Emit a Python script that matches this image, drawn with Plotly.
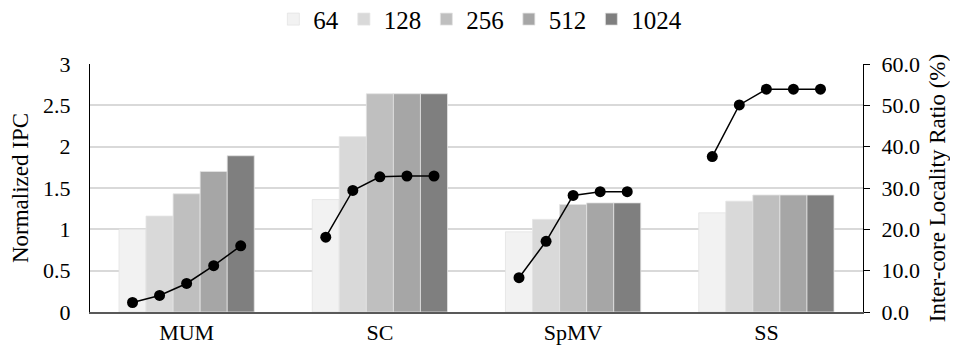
import plotly.graph_objects as go

categories = ["MUM", "SC", "SpMV", "SS"]
sizes = ["64", "128", "256", "512", "1024"]
ipc = {
    "64":   [1.00, 1.36, 0.97, 1.20],
    "128":  [1.16, 2.12, 1.12, 1.34],
    "256":  [1.43, 2.64, 1.30, 1.415],
    "512":  [1.70, 2.64, 1.32, 1.415],
    "1024": [1.89, 2.64, 1.32, 1.415],
}
locality = {
    "MUM":  [2.3, 4.0, 6.9, 11.2, 16.0],
    "SC":   [18.1, 29.4, 32.7, 32.9, 32.9],
    "SpMV": [8.3, 17.1, 28.2, 29.1, 29.1],
    "SS":   [37.6, 50.1, 53.9, 53.9, 53.9],
}
colors = ["#f2f2f2", "#d9d9d9", "#bfbfbf", "#a6a6a6", "#7f7f7f"]

FONT = "Liberation Serif"
bargap = 0.3
nb = len(sizes)
bw = (1 - bargap) / nb
xs = list(range(len(categories)))

fig = go.Figure()
for s, c in zip(sizes, colors):
    fig.add_trace(go.Bar(x=xs, y=ipc[s], name=s, marker=dict(color=c, line=dict(color="#e3e3e3", width=0.8))))

for i, cat in enumerate(categories):
    px = [i + (j - (nb - 1) / 2) * bw for j in range(nb)]
    fig.add_trace(go.Scatter(x=px, y=locality[cat], yaxis="y2", mode="lines+markers",
                             line=dict(color="black", width=1.5),
                             marker=dict(color="black", size=11),
                             showlegend=False))

# page body has an 8px default margin, so the figure is offset by (8, 8)
fig.update_layout(
    width=950, height=344,
    margin=dict(l=82, r=95, t=56, b=40, autoexpand=False),
    barmode="group", bargap=bargap, bargroupgap=0,
    plot_bgcolor="white", paper_bgcolor="white",
    font=dict(family=FONT, size=22, color="black"),
    legend=dict(orientation="h", x=0.505, xanchor="center", y=1.18, yanchor="middle",
                font=dict(size=25), itemwidth=30, traceorder="normal",
                tracegroupgap=0),
    xaxis=dict(tickvals=xs, ticktext=categories, range=[-0.5, len(categories) - 0.5],
               showline=True, linecolor="#595959", linewidth=1.5, ticks="",
               tickfont=dict(size=22), automargin=False),
    yaxis=dict(range=[0, 3], dtick=0.5, showgrid=True, gridcolor="#d9d9d9", gridwidth=1.5,
               showline=True, linecolor="black", linewidth=1, zeroline=False,
               ticklabelstandoff=14, automargin=False,
               title=dict(text="Normalized IPC", font=dict(size=23), standoff=8),
               tickfont=dict(size=22)),
    yaxis2=dict(range=[0, 60], dtick=10, tickformat=".1f", overlaying="y", side="right",
                showgrid=False, showline=True, linecolor="black", linewidth=1,
                ticks="outside", ticklen=6, tickcolor="black", zeroline=False,
                ticklabelstandoff=7, automargin=False,
                title=dict(text="Inter-core Locality Ratio (%)", font=dict(size=23), standoff=9),
                tickfont=dict(size=22)),
)
fig.write_html("out.html")
